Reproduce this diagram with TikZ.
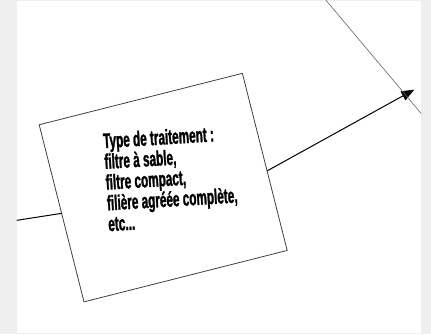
\documentclass[tikz,border=0pt]{standalone}
\usepackage{fontspec}
\newfontfamily\narrowsans[FakeStretch=0.56,FakeBold=1.2]{Liberation Sans}
\usetikzlibrary{arrows.meta}
\definecolor{pagegray}{HTML}{EFEFEF}
\tikzset{
  every picture/.style={line join=round, line cap=round, >=Stealth},
  boxframe/.style={draw=black!75, line width=0.8pt, rotate=14.2, minimum width=209.6pt, minimum height=182.7pt, inner sep=0pt},
  notetext/.style={font=\narrowsans\bfseries\fontsize{21}{20.8}\selectfont, align=left, inner sep=0pt, rotate=3.5, anchor=north west},
  flowline/.style={line width=1pt},
}
\begin{document}
\begin{tikzpicture}[x=1pt,y=1pt]
\fill[pagegray](0,0) rectangle (431,334);
\fill[white](17,1) rectangle (421,333);
%the treatment box
\node[boxframe] (box) at (163.2,146.7) {};
\node[notetext] (note) at (102.5,201.5) {Type de traitement :\\filtre à sable,\\filtre compact,\\filière agréée complète,\\etc...};
\coordinate (inlet) at (17,114);
\coordinate (outlet) at (414.3,244.7);
\draw[flowline](inlet)--(box.west);
\draw[flowline,-{Triangle[length=13pt,width=10pt]}](box.-5)--(outlet);
%thin crossing line
\coordinate (cross1) at (326,334);
\coordinate (cross2) at (421,221);
\draw[black!60,line width=0.6pt](cross1)--(cross2);
\end{tikzpicture}
\end{document}
